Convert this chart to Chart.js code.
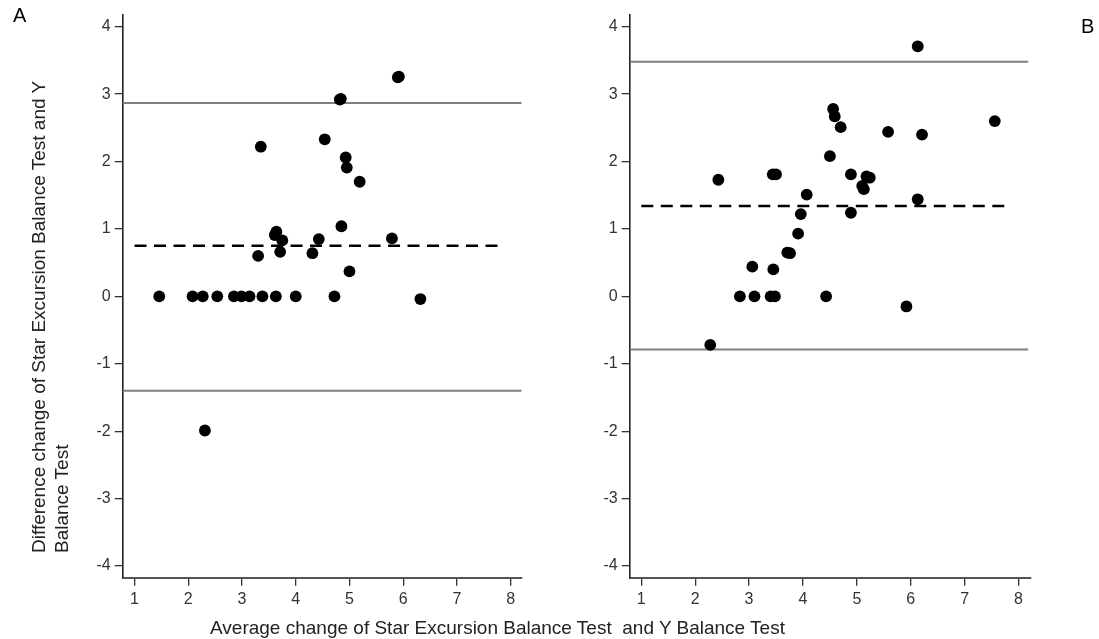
<!DOCTYPE html>
<html>
<head>
<meta charset="utf-8">
<script src="https://cdn.jsdelivr.net/npm/chart.js@4/dist/chart.umd.min.js"></script>
<style>
  body { margin: 0; background: #fff; }
  #wrap { position: relative; width: 1099px; height: 639px; overflow: hidden;
          font-family: 'Liberation Sans', Arial, sans-serif; }
  canvas { position: absolute; left: 0; top: 0; }
  .txt { position: absolute; white-space: pre; line-height: 23px; }
  .panel { font-size: 20px; color: #000; }
  .axtitle { font-size: 19px; color: #222; }
  #ytitle { left: 27px; top: 553px; transform-origin: 0 0; transform: rotate(-90deg); }
  #xtitle { left: 210px; top: 616px; }
</style>
</head>
<body>
<div id="wrap">
  <canvas id="chartA" width="1099" height="639"></canvas>
  <canvas id="chartB" width="1099" height="639"></canvas>
  <div class="txt panel" style="left:13px;top:4px;">A</div>
  <div class="txt panel" style="left:1081px;top:15px;">B</div>
  <div id="ytitle" class="txt axtitle">Difference change of Star Excursion Balance Test and Y
Balance Test</div>
  <div id="xtitle" class="txt axtitle">Average change of Star Excursion Balance Test  and Y Balance Test</div>
</div>
<script>
// ---------------- data ----------------
const xTicks = [1, 2, 3, 4, 5, 6, 7, 8];
const yTicks = [-4, -3, -2, -1, 0, 1, 2, 3, 4];

// panel A : average change (x) vs difference change (y)
const avgA = [1.46, 2.08, 2.27, 2.54, 2.85, 2.99, 3.14, 3.38, 3.63, 4.00, 4.72, 6.32,
              3.30, 3.35, 3.61, 3.64, 3.75, 3.71, 4.31, 4.43, 4.54, 4.82, 4.84, 4.85,
              4.93, 4.95, 5.00, 5.19, 5.79, 5.90, 5.92, 2.31];
const diffA = [0, 0, 0, 0, 0, 0, 0, 0, 0, 0, 0, -0.04,
               0.60, 2.22, 0.91, 0.96, 0.83, 0.66, 0.64, 0.85, 2.33, 2.92, 2.93, 1.04,
               2.06, 1.91, 0.37, 1.70, 0.86, 3.25, 3.26, -1.99];
// upper limit, mean, lower limit
const limitsA = [2.87, 0.75, -1.40];

// panel B
const avgB = [2.43, 2.83, 3.10, 3.06, 3.40, 3.48, 3.45, 3.44, 3.50, 3.71, 3.76, 3.91,
              3.96, 4.07, 4.43, 4.50, 4.56, 4.59, 4.70, 4.89, 4.89, 5.10, 5.13, 5.18,
              5.24, 5.58, 5.92, 6.13, 6.13, 6.21, 7.56, 2.28];
const diffB = [1.73, 0, 0, 0.44, 0, 0, 0.40, 1.81, 1.81, 0.65, 0.64, 0.93,
               1.22, 1.51, 0, 2.08, 2.78, 2.67, 2.51, 1.81, 1.24, 1.64, 1.59, 1.78,
               1.76, 2.44, -0.15, 3.71, 1.44, 2.40, 2.60, -0.72];
const limitsB = [3.48, 1.34, -0.79];

// axis ranges
const xRangeA = [0.78, 8.205];
const xRangeB = [0.785, 8.23];
const yRange = [-4.174, 4.174];
// extent of the limit lines and of the dashed mean line (x units)
const limitSpanA = [0.78, 8.205];
const limitSpanB = [0.785, 8.18];
const meanSpan = [1, 7.87];

// ---------------- helpers ----------------
const FONT = "'Liberation Sans', Arial, sans-serif";

function toPoints(xs, ys) {
    return xs.map((x, i) => ({ x: x, y: ys[i] }));
}

function hLine(span, y) {
    return [{ x: span[0], y: y }, { x: span[1], y: y }];
}

function makeChart(id, xs, ys, limits, xRange, limitSpan, box) {
    const solid = { showLine: true, pointRadius: 0, borderColor: '#7f7f7f', borderWidth: 2, fill: false };
    return new Chart(id, {
        type: 'scatter',
        data: {
            datasets: [
                { data: toPoints(xs, ys), pointRadius: 5.9, pointBackgroundColor: '#000',
                  pointBorderWidth: 0, pointBorderColor: '#000' },
                Object.assign({ data: hLine(limitSpan, limits[0]) }, solid),
                { data: hLine(meanSpan, limits[1]), showLine: true, pointRadius: 0,
                  borderColor: '#000', borderWidth: 2.5, borderDash: [12, 7.5], fill: false },
                Object.assign({ data: hLine(limitSpan, limits[2]) }, solid)
            ]
        },
        options: {
            responsive: false,
            animation: false,
            devicePixelRatio: 1,
            layout: { padding: { left: 0, top: box.top, right: 1099 - box.right, bottom: 0 } },
            plugins: { legend: { display: false }, tooltip: { enabled: false } },
            scales: {
                x: {
                    type: 'linear',
                    min: xRange[0], max: xRange[1],
                    afterBuildTicks: s => { s.ticks = xTicks.map(v => ({ value: v })); },
                    afterFit: s => { s.height = 639 - box.bottom; },
                    grid: { drawOnChartArea: false, drawTicks: true, tickLength: 8, color: '#333', lineWidth: 1.3 },
                    border: { display: true, color: '#555', width: 2 },
                    ticks: { color: '#333', padding: 4, font: { family: FONT, size: 16 },
                             callback: v => String(v) }
                },
                y: {
                    type: 'linear',
                    min: yRange[0], max: yRange[1],
                    afterBuildTicks: s => { s.ticks = yTicks.map(v => ({ value: v })); },
                    afterFit: s => { s.width = box.left; },
                    grid: { drawOnChartArea: false, drawTicks: true, tickLength: 8, color: '#333', lineWidth: 1.3 },
                    border: { display: true, color: '#222', width: 1.6 },
                    ticks: { color: '#333', padding: 4, font: { family: FONT, size: 16 },
                             callback: v => String(v) }
                }
            }
        }
    });
}

makeChart('chartA', avgA, diffA, limitsA, xRangeA, limitSpanA,
          { left: 122.7, right: 521.7, top: 15, bottom: 577.7 });
makeChart('chartB', avgB, diffB, limitsB, xRangeB, limitSpanB,
          { left: 629.7, right: 1030.9, top: 15, bottom: 577.7 });
</script>
</body>
</html>
